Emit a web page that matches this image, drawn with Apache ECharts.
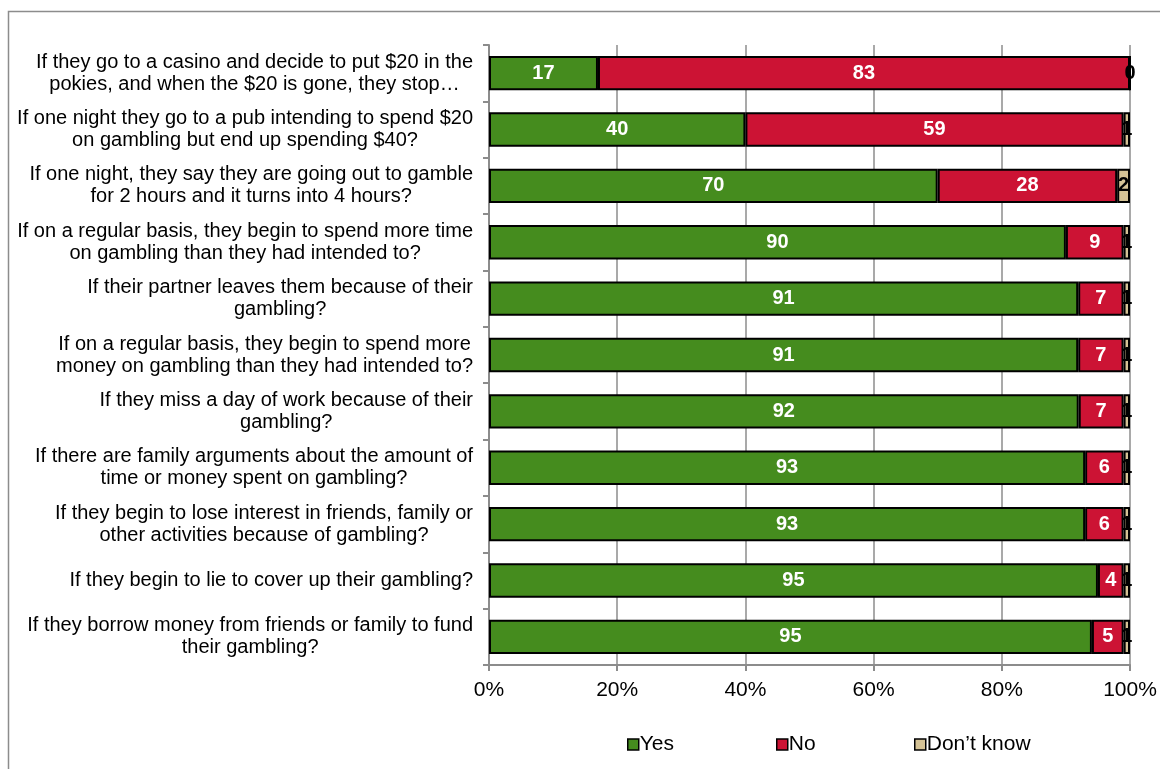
<!DOCTYPE html>
<html>
<head>
<meta charset="utf-8">
<style>
  html, body { margin: 0; padding: 0; background: #fff; overflow: hidden; }
  #chart { width: 1160px; height: 769px; }
</style>
<script src="https://cdn.jsdelivr.net/npm/echarts@6/dist/echarts.min.js"></script>
</head>
<body>
<div id="chart"></div>
<script>
// Survey questions, top to bottom
const questions = [
  'If they go to a casino and decide to put $20 in the\npokies, and when the $20 is gone, they stop…',
  'If one night they go to a pub intending to spend $20\non gambling but end up spending $40?',
  'If one night, they say they are going out to gamble\nfor 2 hours and it turns into 4 hours?',
  'If on a regular basis, they begin to spend more time\non gambling than they had intended to?',
  'If their partner leaves them because of their\ngambling?',
  'If on a regular basis, they begin to spend more\nmoney on gambling than they had intended to?',
  'If they miss a day of work because of their\ngambling?',
  'If there are family arguments about the amount of\ntime or money spent on gambling?',
  'If they begin to lose interest in friends, family or\nother activities because of gambling?',
  'If they begin to lie to cover up their gambling?',
  'If they borrow money from friends or family to fund\ntheir gambling?'
];

// Responses (%), same order as the questions
const yesValues = [17, 40, 70, 90, 91, 91, 92, 93, 93, 95, 95];
const noValues = [83, 59, 28, 9, 7, 7, 7, 6, 6, 4, 5];
const dontKnowValues = [0, 1, 2, 1, 1, 1, 1, 1, 1, 1, 1];

const seriesNames = ['Yes', 'No', 'Don\u2019t know'];
const xTickLabels = ['0%', '20%', '40%', '60%', '80%', '100%'];

const colors = ['#458c1e', '#cc1334', '#d5c396'];
const raw = [yesValues, noValues, dontKnowValues];

// Each bar is scaled to its row total (100% stacked)
const totals = questions.map((_, i) => yesValues[i] + noValues[i] + dontKnowValues[i]);

// Category axis runs bottom-up, so reverse for top-to-bottom order
const order = questions.map((_, i) => questions.length - 1 - i);

const series = raw.map((vals, s) => ({
  name: seriesNames[s],
  type: 'bar',
  stack: 'total',
  barCategoryGap: '39%',
  itemStyle: { color: colors[s], borderColor: '#000', borderWidth: 2 },
  label: {
    show: true,
    position: 'inside',
    fontFamily: 'Liberation Sans, Arial, sans-serif',
    fontSize: 20,
    fontWeight: 'bold',
    color: s === 2 ? '#000' : '#fff',
    formatter: p => String(vals[order[p.dataIndex]])
  },
  emphasis: { disabled: true },
  data: order.map(i => vals[i] / totals[i] * 100)
}));

// One legend block per series so each entry sits at its own spot
const legendLefts = [622, 771, 909];
const legends = seriesNames.map((name, s) => ({
  left: legendLefts[s],
  top: 729,
  itemWidth: 11,
  itemHeight: 11,
  itemGap: 0,
  icon: 'rect',
  selectedMode: false,
  itemStyle: { borderColor: '#000', borderWidth: 1.5 },
  textStyle: { fontSize: 21, color: '#000', padding: [0, 0, 0, -4] },
  data: [name]
}));

const chart = echarts.init(document.getElementById('chart'), null, { renderer: 'canvas' });
chart.setOption({
  animation: false,
  backgroundColor: '#fff',
  textStyle: { fontFamily: 'Liberation Sans, Arial, sans-serif' },
  graphic: [{
    type: 'rect',
    shape: { x: 8.5, y: 11.5, width: 1200, height: 800 },
    style: { fill: 'none', stroke: '#8c8c8c', lineWidth: 1.5 },
    z: 0
  }],
  grid: { left: 489, right: 30, top: 45, bottom: 104, containLabel: false },
  legend: legends,
  xAxis: {
    type: 'value',
    min: 0,
    max: 100,
    interval: 20,
    axisLine: { show: true, lineStyle: { color: '#8c8c8c', width: 2 } },
    axisTick: { show: true, length: 6, lineStyle: { color: '#8c8c8c', width: 2 } },
    splitLine: { show: true, lineStyle: { color: '#8c8c8c', width: 1.5 } },
    axisLabel: {
      fontSize: 21,
      color: '#000',
      margin: 15,
      formatter: v => xTickLabels[Math.round(v / 20)]
    }
  },
  yAxis: {
    type: 'category',
    data: order.map(i => questions[i]),
    axisLine: { show: true, lineStyle: { color: '#8c8c8c', width: 2 } },
    axisTick: { show: true, length: 6, lineStyle: { color: '#8c8c8c', width: 2 } },
    axisLabel: {
      fontSize: 20,
      color: '#000',
      margin: 16,
      align: 'right',
      lineHeight: 22,
      // block sits right against the axis, each line centred within it
      formatter: v => v.split('\n').map(line => '{c|' + line + '}').join('\n'),
      rich: {
        c: { align: 'center', fontSize: 20, lineHeight: 22, color: '#000' }
      }
    }
  },
  series: series
});
</script>
</body>
</html>
